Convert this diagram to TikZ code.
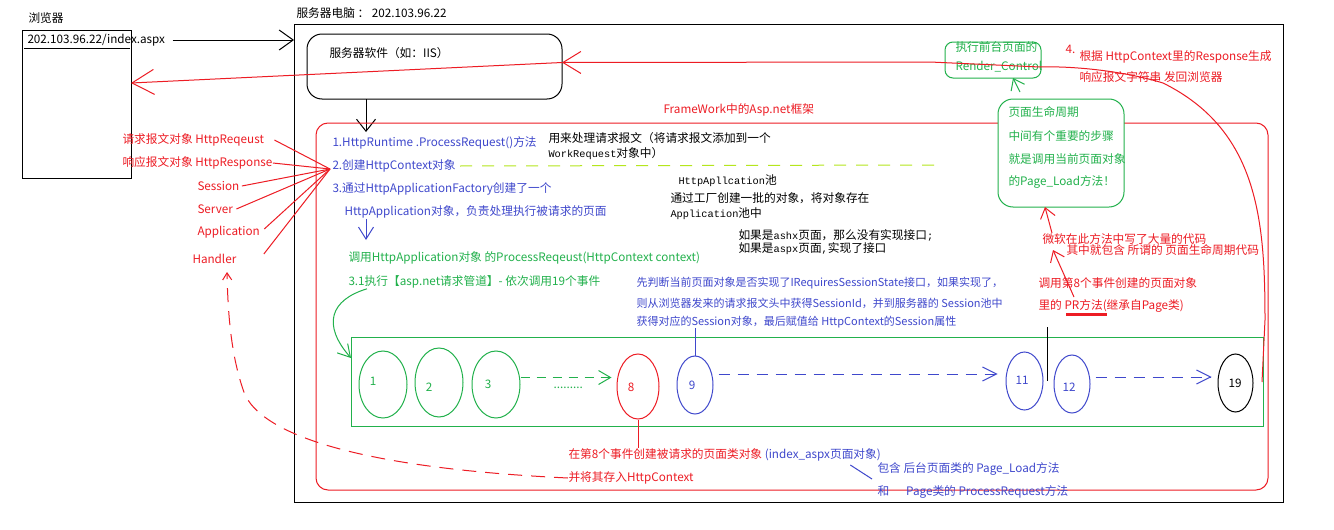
\documentclass[tikz,border=0pt]{standalone}
\usepackage{fontspec}
\setmainfont{Noto Sans CJK SC}
\newfontfamily\codefnt{Liberation Mono}
\usetikzlibrary{arrows.meta,shapes.geometric,calc}
\definecolor{pred}{RGB}{237,28,36}
\definecolor{pgreen}{RGB}{34,177,76}
\definecolor{pblue}{RGB}{63,72,204}
\definecolor{plime}{RGB}{181,230,29}
\newcommand{\mtxt}[1]{{\codefnt\fontsize{10.3}{12}\selectfont #1}}

\begin{document}
\begin{tikzpicture}[x=1pt,y=-1pt,line width=1pt,
	txt/.style={anchor=west,inner sep=0pt,font=\fontsize{11.7}{14}\selectfont},
	rtxt/.style={txt,text=pred},
	btxt/.style={txt,text=pblue},
	gtxt/.style={txt,text=pgreen},
	ssn/.style={btxt,font=\fontsize{11}{13}\selectfont},
	plainbox/.style={draw,anchor=north west,inner sep=0pt,outer sep=0pt},
	ev/.style={draw,ellipse,inner sep=0pt},
	evn/.style={inner sep=0pt,font=\fontsize{11.7}{14}\selectfont},
	kbarb/.style={-{Straight Barb[length=14pt,width=20pt]}},
	kbarbs/.style={-{Straight Barb[length=12pt,width=19pt]}},
	rbarbl/.style={-{Straight Barb[length=22pt,width=25pt]}},
	rbarbm/.style={-{Straight Barb[length=18pt,width=22pt]}},
	rbarbs/.style={-{Straight Barb[length=10pt,width=15pt]}},
	hbarb/.style={-{Straight Barb[length=7pt,width=9pt]}},
	bbarb/.style={-{Straight Barb[length=12pt,width=15pt]}},
	dbarb/.style={-{Straight Barb[length=14pt,width=14pt]}},
	gbarb/.style={-{Straight Barb[length=12pt,width=14pt]}}]
	\fill[white] (0,0) rectangle (1334,530);
	\useasboundingbox (0,0) rectangle (1334,530);
	% browser
	\node[txt] (brwlbl) at (28,18) {浏览器};
	\node[plainbox,minimum width=109pt,minimum height=148pt] (brw) at (22,30) {};
	\node[txt] (url) at (27,40) {202.103.96.22/index.aspx};
	\draw ($(brw.north west)+(2,18)$) -- ($(brw.north east)+(-1,18)$);
	% server
	\node[txt] (srvlbl) at (296,13) {服务器电脑 ： 202.103.96.22};
	\node[plainbox,minimum width=989pt,minimum height=478pt] (srv) at (294,24) {};
	\draw[kbarb] ([xshift=7pt]url.east) -- (url.east -| srv.west);
	\node[plainbox,rounded corners=15pt,minimum width=255pt,minimum height=65pt] (iis) at (307,34) {};
	\node[txt] (iistxt) at (329,53) {服务器软件（如：IIS）};
	\coordinate (fwin) at (366,132);
	\draw[kbarbs] (iis.south -| fwin) -- (fwin);
	% framework
	\node[plainbox,draw=pred,rounded corners=12pt,minimum width=952pt,minimum height=367pt] (fw) at (316,123) {};
	\node[rtxt] (fwlbl) at (663,110) {FrameWork中的Asp.net框架};
	\node[btxt] (s1) at (332,143) {1.HttpRuntime .ProcessRequest()方法};
	\node[txt] (s1a) at (548,138) {用来处理请求报文（将请求报文添加到一个};
	\node[txt] (s1b) at (548,154) {\mtxt{WorkRequest}对象中）};
	\node[btxt] (s2) at (332,166) {2.创建HttpContext对象};
	\coordinate (s2end) at (937,165);
	\draw[plime,dash pattern=on 12pt off 10pt] ([xshift=4pt]s2.east) -- (s2end);
	\node[btxt] (s3) at (332,189) {3.通过HttpApplicationFactory创建了一个};
	\node[btxt] (s3b) at (344,212) {HttpApplication对象，负责处理执行被请求的页面};
	\coordinate (s3dn) at (366,240);
	\draw[pblue,bbarb] (s3dn |- s3b.south) -- (s3dn);
	\node[gtxt] (prq) at (348,258) {调用HttpApplication对象 的ProcessReqeust(HttpContext context)};
	\node[gtxt] (pl) at (348,282) {3.1执行【asp.net请求管道】- 依次调用19个事件};
	% application pool
	\node[txt] (pool1) at (678,181) {\mtxt{HttpApllcation}池};
	\node[txt] (pool2) at (670,198) {通过工厂创建一批的对象，将对象存在};
	\node[txt] (pool3) at (670,214) {\mtxt{Application}池中};
	\node[txt] (ashx) at (738,235) {如果是\mtxt{ashx}页面，那么没有实现接口\mtxt{;}};
	\node[txt] (aspx) at (738,249) {如果是\mtxt{aspx}页面\mtxt{,}实现了接口};
	% session
	\node[ssn] (ss1) at (636,283) {先判断当前页面对象是否实现了IRequiresSessionState接口，如果实现了，};
	\node[ssn] (ss2) at (636,303) {则从浏览器发来的请求报文头中获得SessionId，并到服务器的 Session池中};
	\node[ssn] (ss3) at (636,322) {获得对应的Session对象，最后赋值给 HttpContext的Session属性};
	% context members
	\node[rtxt] (req) at (122,140) {请求报文对象 HttpReqeust};
	\node[rtxt] (rsp) at (122,163) {响应报文对象 HttpResponse};
	\node[rtxt] (ses) at (197,186) {Session};
	\node[rtxt] (svr) at (197,209) {Server};
	\node[rtxt] (app) at (197,232) {Application};
	\node[rtxt] (hdl) at (192,259) {Handler};
	\coordinate (ctx) at (330,169);
	\draw[pred] ([xshift=10pt]req.east) -- (ctx);
	\draw[pred] (rsp.east) -- (ctx);
	\draw[pred] ([xshift=2pt]ses.east) -- (ctx);
	\draw[pred] ([xshift=3pt]svr.east) -- (ctx);
	\draw[pred] ([xshift=4pt,yshift=3pt]app.east) -- (ctx);
	\draw[pred] ([xshift=27pt,yshift=5pt]hdl.east) -- (ctx);
	% pipeline
	\node[plainbox,draw=pgreen,minimum width=912pt,minimum height=89pt] (pipe) at (351,337) {};
	\draw[pgreen,gbarb] ([xshift=19pt]pl.south west) .. controls (330,300) and (322,325) .. ([yshift=-21pt]pipe.north west);
	\node[ev,draw=pgreen,minimum width=48pt,minimum height=67pt] (e1) at (383,384.5) {};
	\node[ev,draw=pgreen,minimum width=48pt,minimum height=69pt] (e2) at (439,382.5) {};
	\node[ev,draw=pgreen,minimum width=48pt,minimum height=67pt] (e3) at (496,384.5) {};
	\node[ev,draw=pred,minimum width=42pt,minimum height=65pt] (e8) at (638,386.5) {};
	\node[ev,draw=pblue,minimum width=36pt,minimum height=58pt] (e9) at (695,385) {};
	\node[ev,draw=pblue,minimum width=37pt,minimum height=58pt] (e11) at (1024.5,381) {};
	\node[ev,draw=pblue,minimum width=36pt,minimum height=58pt] (e12) at (1072,384) {};
	\node[ev,minimum width=35pt,minimum height=58pt] (e19) at (1235.5,383) {};
	\node[evn,text=pgreen] (n1) at (373,381) {1};
	\node[evn,text=pgreen] (n2) at (429,387) {2};
	\node[evn,text=pgreen] (n3) at (488,384) {3};
	\node[evn,text=pred] (n8) at (631,387) {8};
	\node[evn,text=pblue] (n9) at (692,385) {9};
	\node[evn,text=pblue] (n11) at (1022,380) {11};
	\node[evn,text=pblue] (n12) at (1069,387) {12};
	\node[evn] (n19) at (1235,383) {19};
	\node[gtxt,anchor=base west] (dots) at (553,388) {.........};
	\draw[pgreen,dash pattern=on 9pt off 7pt,gbarb] ([yshift=7pt]e3.east) -- ([xshift=-5pt,yshift=9pt]e8.west);
	\draw[pblue,dash pattern=on 11pt off 8pt,dbarb] ([xshift=5pt,yshift=11pt]e9.east) -- ([xshift=-8pt,yshift=7pt]e11.west);
	\draw[pblue,dash pattern=on 11pt off 8pt,dbarb] ([xshift=5pt,yshift=7pt]e12.east) -- ([xshift=-6pt,yshift=6pt]e19.west);
	\draw[pblue] (e9.north) -- (e9.north |- ss3.south);
	% page object
	\node[rtxt] (ev8) at (568,455) {在第8个事件创建被请求的页面类对象 \textcolor{pblue}{(index\_aspx页面对象)}};
	\node[rtxt] (keep) at (568,478) {并将其存入HttpContext};
	\node[btxt] (inc1) at (877,469) {包含 后台页面类的 Page\_Load方法};
	\node[btxt] (inc2) at (877,492) {和\hspace{17pt}Page类的 ProcessRequest方法};
	\draw[pred] (e8.south) -- (e8.south |- ev8.north);
	\draw[pblue] ([xshift=-31pt,yshift=-10pt]ev8.east) -- ([xshift=-5pt,yshift=-10pt]inc1.west);
	\coordinate (hdlin) at (227,272);
	\draw[pred,dash pattern=on 14pt off 9pt,hbarb] (keep.west) .. controls (400,470) and (270,445) .. (245,395) .. controls (232,360) and (228,320) .. (hdlin);
	% render and page life cycle
	\node[plainbox,draw=pgreen,rounded corners=8pt,minimum width=96pt,minimum height=36pt] (rc) at (945,42) {};
	\node[gtxt] (rc1) at (955,47) {执行前台页面的};
	\node[gtxt] (rc2) at (955,67) {Render\_Control};
	\node[rtxt] (four) at (1065,49) {4.};
	\node[rtxt] (ret1) at (1079,57) {根据 HttpContext里的Response生成};
	\node[rtxt] (ret2) at (1079,77) {响应报文字符串 发回浏览器};
	\node[plainbox,draw=pgreen,fill=white,rounded corners=15pt,minimum width=126pt,minimum height=108pt] (lc) at (998,99) {};
	\node[gtxt] (lc1) at (1008,112) {页面生命周期};
	\node[gtxt] (lc2) at (1008,136) {中间有个重要的步骤};
	\node[gtxt] (lc3) at (1008,159) {就是调用当前页面对象};
	\node[gtxt] (lc4) at (1008,182) {的Page\_Load方法！};
	\draw[pgreen,rbarbs] ([xshift=22pt,yshift=7pt]lc.north west) -- ([xshift=68pt]rc.south west);
	\node[rtxt] (ms1) at (1042,239) {微软在此方法中写了大量的代码};
	\node[rtxt] (ms2) at (1066,250) {其中就包含 所谓的 页面生命周期代码};
	\node[rtxt] (pr1) at (1038,283) {调用第8个事件创建的页面对象};
	\node[rtxt] (pr2) at (1038,306) {里的 PR方法(继承自Page类)};
	\draw[pred,line width=3pt] ([xshift=28pt,yshift=-2pt]pr2.south west) -- ++(41,0);
	\draw[pred,rbarbs] ([xshift=10pt]ms1.north west) -- ([xshift=47pt]lc.south west);
	\draw[pred,rbarbs] ([xshift=36pt,yshift=-14pt]pr1.west) -- ([xshift=-13pt]ms2.west);
	\coordinate (prtop) at (1047,327);
	\coordinate (prbot) at (1047,381);
	\draw (prtop) -- (prbot);
	% response back to browser
	\coordinate (rtail) at (1262,382);
	\draw[pred,rbarbm] (rtail) -- (1265,320) .. controls (1265,220) and (1258,130) .. (1163,83) .. controls (1120,70) and (1070,66) .. (1040,67) -- (930,62) -- ([yshift=4pt]iis.east);
	\draw[pred,rbarbl] ([yshift=4pt]iis.east) -- ([yshift=21pt]brw.east);
\end{tikzpicture}
\end{document}
